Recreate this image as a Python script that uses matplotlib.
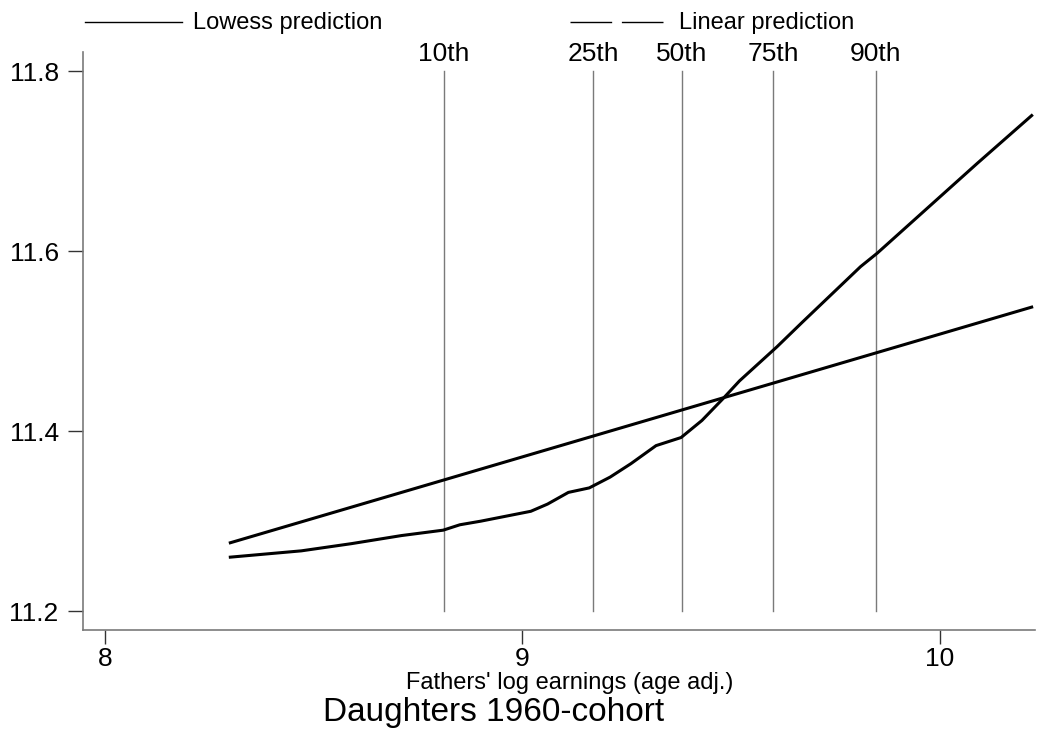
import matplotlib
matplotlib.use("Agg")
import matplotlib.pyplot as plt
from matplotlib.lines import Line2D

plt.rcParams['font.family'] = ['Liberation Sans', 'DejaVu Sans']

# Data
lowess_x = [8.30, 8.47, 8.59, 8.71, 8.81, 8.85, 8.90, 9.02, 9.06, 9.11, 9.16, 9.21,
            9.26, 9.32, 9.38, 9.43, 9.48, 9.52, 9.61, 9.67, 9.81, 9.85, 9.97, 10.09, 10.22]
lowess_y = [11.260, 11.267, 11.275, 11.284, 11.290, 11.296, 11.300, 11.311, 11.319,
            11.332, 11.337, 11.349, 11.364, 11.384, 11.393, 11.412, 11.436, 11.456,
            11.494, 11.521, 11.583, 11.598, 11.648, 11.698, 11.751]
linear_x = [8.30, 10.22]
linear_y = [11.276, 11.538]
pct_labels = ["10th", "25th", "50th", "75th", "90th"]
pct_x = [8.812, 9.169, 9.382, 9.601, 9.847]
xticks = [8, 9, 10]
yticks = [11.2, 11.4, 11.6, 11.8]

W, H = 1057, 733
fig = plt.figure(figsize=(W / 100, H / 100), dpi=100)
ax = fig.add_axes([83 / W, 1 - 630 / H, (1035 - 83) / W, (630 - 51.7) / H])

ax.set_xlim(7.947, 10.228)
ax.set_ylim(11.179, 11.822)

gray = "#7a7a7a"
for xv in pct_x:
    ax.plot([xv, xv], [11.2, 11.8], color=gray, lw=1.0, zorder=1)
for lab, xv in zip(pct_labels, pct_x):
    ax.text(xv, 1.0 - 2 / 578, lab, transform=ax.get_xaxis_transform(), ha="center",
            va="center", fontsize=19, clip_on=False)

ax.plot(lowess_x, lowess_y, color="black", lw=2.2, zorder=3)
ax.plot(linear_x, linear_y, color="black", lw=2.2, zorder=3)

for s in ["top", "right"]:
    ax.spines[s].set_visible(False)
for s in ["left", "bottom"]:
    ax.spines[s].set_color(gray)
    ax.spines[s].set_linewidth(1.2)

ax.set_xticks(xticks)
ax.set_xticklabels([str(v) for v in xticks])
ax.set_yticks(yticks)
ax.set_yticklabels([f"{v:.1f}" for v in yticks])
ax.tick_params(axis="y", length=10.5, width=1.0, color="#333333", labelsize=19, pad=7)
ax.tick_params(axis="x", length=10, width=1.0, color="#333333", labelsize=19, pad=2)

fig.text(570 / W, 1 - 683 / H, "Fathers' log earnings (age adj.)", ha="center", va="center",
         fontsize=17)
fig.text(494 / W, 1 - 713 / H, "Daughters 1960-cohort", ha="center", va="center",
         fontsize=24)

# Legend drawn above the plot
ly = 1 - 22 / H
fig.add_artist(Line2D([85 / W, 182 / W], [ly, ly], color="black", lw=1.0))
fig.text(193 / W, 1 - 23 / H, "Lowess prediction", ha="left", va="center", fontsize=17)
fig.add_artist(Line2D([570 / W, 663 / W], [ly, ly], color="black", lw=1.0,
                      dashes=(30, 7)))
fig.text(679 / W, 1 - 23 / H, "Linear prediction", ha="left", va="center", fontsize=17)

fig.savefig("out.png", dpi=100)
